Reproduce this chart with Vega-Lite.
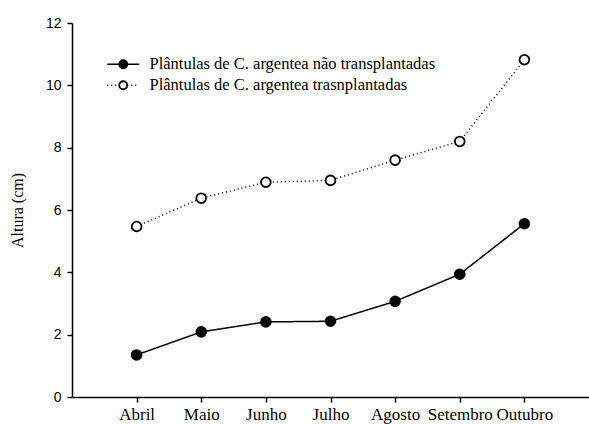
{
  "$schema": "https://vega.github.io/schema/vega-lite/v6.json",
  "width": 517,
  "height": 374,
  "autosize": "none",
  "padding": {"left": 72, "top": 23, "right": 0, "bottom": 27},
  "background": "white",
  "config": {
    "view": {"stroke": null},
    "axis": {"domainColor": "black", "tickColor": "black", "grid": false, "domainWidth": 1.5, "tickWidth": 1.5, "tickSize": 5},
    "legend": {"padding": 0, "labelLimit": 0}
  },
  "data": {
    "values": [
      {"mes": "Abril", "serie": "Plântulas de C. argentea não transplantadas", "altura": 1.35},
      {"mes": "Maio", "serie": "Plântulas de C. argentea não transplantadas", "altura": 2.09},
      {"mes": "Junho", "serie": "Plântulas de C. argentea não transplantadas", "altura": 2.41},
      {"mes": "Julho", "serie": "Plântulas de C. argentea não transplantadas", "altura": 2.43},
      {"mes": "Agosto", "serie": "Plântulas de C. argentea não transplantadas", "altura": 3.07},
      {"mes": "Setembro", "serie": "Plântulas de C. argentea não transplantadas", "altura": 3.94},
      {"mes": "Outubro", "serie": "Plântulas de C. argentea não transplantadas", "altura": 5.56},
      {"mes": "Abril", "serie": "Plântulas de C. argentea trasnplantadas", "altura": 5.47},
      {"mes": "Maio", "serie": "Plântulas de C. argentea trasnplantadas", "altura": 6.38},
      {"mes": "Junho", "serie": "Plântulas de C. argentea trasnplantadas", "altura": 6.89},
      {"mes": "Julho", "serie": "Plântulas de C. argentea trasnplantadas", "altura": 6.95},
      {"mes": "Agosto", "serie": "Plântulas de C. argentea trasnplantadas", "altura": 7.6},
      {"mes": "Setembro", "serie": "Plântulas de C. argentea trasnplantadas", "altura": 8.2},
      {"mes": "Outubro", "serie": "Plântulas de C. argentea trasnplantadas", "altura": 10.82}
    ]
  },
  "encoding": {
    "x": {
      "field": "mes", "type": "ordinal",
      "sort": ["Abril", "Maio", "Junho", "Julho", "Agosto", "Setembro", "Outubro"],
      "scale": {"type": "point", "padding": 1},
      "axis": {"title": null, "labelAngle": 0, "labelFont": "Liberation Serif", "labelFontSize": 17, "labelColor": "black", "labelPadding": 4}
    },
    "y": {
      "field": "altura", "type": "quantitative",
      "scale": {"domain": [0, 12], "nice": false},
      "axis": {"title": "Altura (cm)", "values": [0, 2, 4, 6, 8, 10, 12], "labelFont": "Liberation Sans", "labelFontSize": 14, "labelColor": "black", "labelPadding": 6, "titleFont": "Liberation Serif", "titleFontSize": 16, "titleFontWeight": "normal", "titleColor": "black", "titlePadding": 20}
    }
  },
  "layer": [
    {
      "mark": {"type": "line", "strokeWidth": 1.5, "color": "black"},
      "encoding": {
        "strokeDash": {
          "field": "serie", "type": "nominal",
          "scale": {"range": [[1, 0], [1, 3]]},
          "legend": {"orient": "none", "legendX": 43, "legendY": 33, "title": null, "symbolType": "M-4,0L4,0", "symbolSize": 64, "symbolStrokeColor": "black", "symbolStrokeWidth": 1.5, "labelFont": "Liberation Serif", "labelFontSize": 16.5, "labelExpr": "''", "rowPadding": 4}
        }
      }
    },
    {
      "mark": {"type": "point", "filled": false, "size": 95, "strokeWidth": 1.8, "stroke": "black", "opacity": 1},
      "encoding": {
        "fill": {
          "field": "serie", "type": "nominal",
          "scale": {"range": ["black", "white"]},
          "legend": {"orient": "none", "legendX": 43, "legendY": 33, "title": null, "symbolType": "circle", "symbolSize": 64, "symbolStrokeColor": "black", "symbolStrokeWidth": 1.8, "symbolOpacity": 1, "labelFont": "Liberation Serif", "labelFontSize": 16.5, "labelColor": "black", "labelOffset": 18, "rowPadding": 4}
        }
      }
    }
  ]
}
